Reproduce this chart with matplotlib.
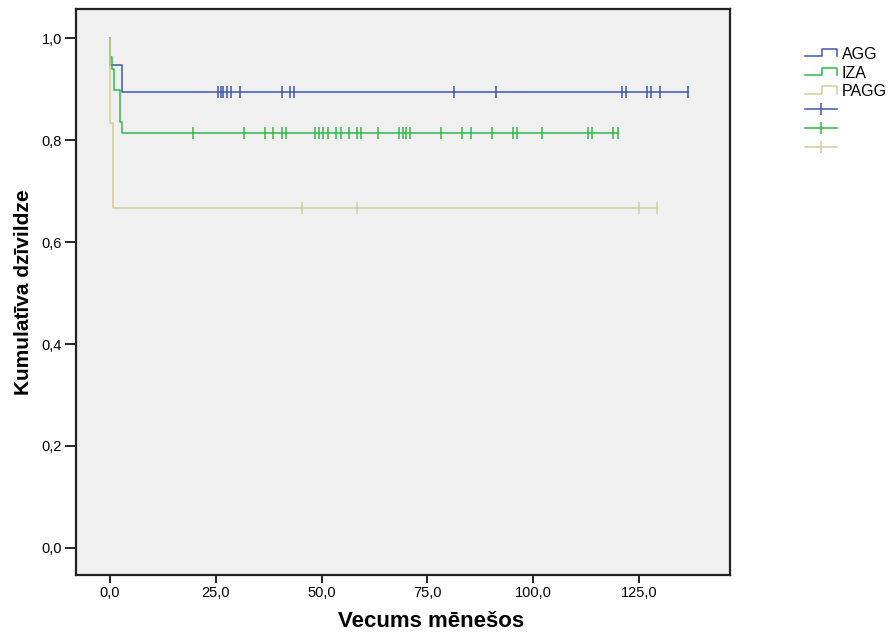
import numpy as np
import matplotlib
matplotlib.use("Agg")
import matplotlib.pyplot as plt
from matplotlib.lines import Line2D
from matplotlib.legend_handler import HandlerBase
from matplotlib.ticker import FuncFormatter

plt.rcParams['font.family'] = ['Liberation Sans', 'DejaVu Sans']

# Survival steps (time in months, cumulative survival)
groups = ["AGG", "IZA", "PAGG"]
colors = ["#3E58AC", "#2EB848", "#D3CE97"]

agg_step_t = [0.15, 2.8]
agg_step_s = [0.947, 0.895]
agg_cens = [25.6, 26.2, 26.8, 27.6, 28.5, 30.7, 40.6, 42.5, 43.5, 81.3, 91.2,
            121.1, 121.9, 127.0, 127.9, 130.0, 136.5]

iza_step_t = [0.15, 0.55, 0.95, 2.35, 2.9]
iza_step_s = [0.962, 0.94, 0.898, 0.836, 0.813]
iza_cens = [19.7, 31.6, 36.6, 38.6, 40.6, 41.6, 48.4, 49.4, 50.4, 51.5, 53.4,
            54.5, 56.5, 58.3, 59.4, 63.4, 68.3, 69.2, 70.0, 71.0, 78.2,
            83.3, 85.2, 90.2, 95.2, 96.1, 102.2, 113.0, 114.0, 118.9, 120.0]

pagg_step_t = [0.15, 0.85]
pagg_step_s = [0.833, 0.667]
pagg_cens = [45.5, 58.4, 125.1, 129.2]

steps_t = [agg_step_t, iza_step_t, pagg_step_t]
steps_s = [agg_step_s, iza_step_s, pagg_step_s]
censored = [agg_cens, iza_cens, pagg_cens]


def surv_at(t, st, ss):
    s = 1.0
    for ti, si in zip(st, ss):
        if t >= ti:
            s = si
    return s


class StepHandler(HandlerBase):
    # little step-shaped icon like the SPSS legend
    def create_artists(self, legend, orig_handle, xdescent, ydescent,
                       width, height, fontsize, trans):
        x0 = -xdescent
        y0 = -ydescent
        xs = [x0, x0 + 0.52 * width, x0 + 0.52 * width, x0 + width, x0 + width]
        ys = [y0 + 0.25 * height, y0 + 0.25 * height, y0 + 0.9 * height,
              y0 + 0.9 * height, y0 + 0.25 * height]
        ln = Line2D(xs, ys, color=orig_handle.get_color(), lw=1.1, transform=trans)
        return [ln]


fig = plt.figure(figsize=(8.9, 6.38), dpi=100)
ax = fig.add_axes([76 / 890, 1 - 575 / 638, 654 / 890, 566 / 638])
ax.set_facecolor("#F0F0F0")

step_handles = []
cens_handles = []
for name, c, st, ss, cens in zip(groups, colors, steps_t, steps_s, censored):
    end = max(cens)
    t = [0.0] + list(st) + [end]
    s = [1.0] + list(ss) + [ss[-1]]
    ax.step(t, s, where="post", color=c, lw=1.1)
    cy = [surv_at(x, st, ss) for x in cens]
    ax.plot(cens, cy, linestyle="none", marker="|", markersize=9,
            markeredgewidth=1.1, color=c)
    step_handles.append(Line2D([], [], color=c, lw=1.1))
    cens_handles.append(Line2D([], [], color=c, lw=1.1, marker="|",
                               markersize=9, markeredgewidth=1.1))

ax.set_xlim(-8.0, 146.5)
ax.set_ylim(-0.053, 1.057)
ax.set_xticks([0, 25, 50, 75, 100, 125])
ax.set_yticks([0, 0.2, 0.4, 0.6, 0.8, 1.0])
ax.xaxis.set_major_formatter(FuncFormatter(lambda v, p: f"{v:.1f}".replace(".", ",")))
ax.yaxis.set_major_formatter(FuncFormatter(lambda v, p: f"{v:.1f}".replace(".", ",")))
ax.tick_params(axis="both", direction="out", width=1.2, labelsize=10.5,
               colors="black", pad=2)
ax.tick_params(axis="y", length=8)
ax.tick_params(axis="x", length=6)
for sp in ax.spines.values():
    sp.set_linewidth(1.6)
    sp.set_color("#222222")

ax.set_xlabel("Vecums mēnešos", fontsize=16, fontweight="bold")
ax.xaxis.set_label_coords(0.543, -0.064)
ax.set_ylabel("Kumulatīva dzīvildze", fontsize=15, fontweight="bold", labelpad=6)

handles = step_handles + cens_handles
labels = groups + ["", "", ""]
hmap = {h: StepHandler() for h in step_handles}
fig.legend(handles, labels, handler_map=hmap, loc="upper left",
           bbox_to_anchor=(805 / 890, 1 - 47 / 638), frameon=False,
           fontsize=11.5, handlelength=2.0, handletextpad=0.3,
           labelspacing=0.23, borderpad=0, borderaxespad=0, numpoints=1)

fig.savefig("out.png", dpi=100)
